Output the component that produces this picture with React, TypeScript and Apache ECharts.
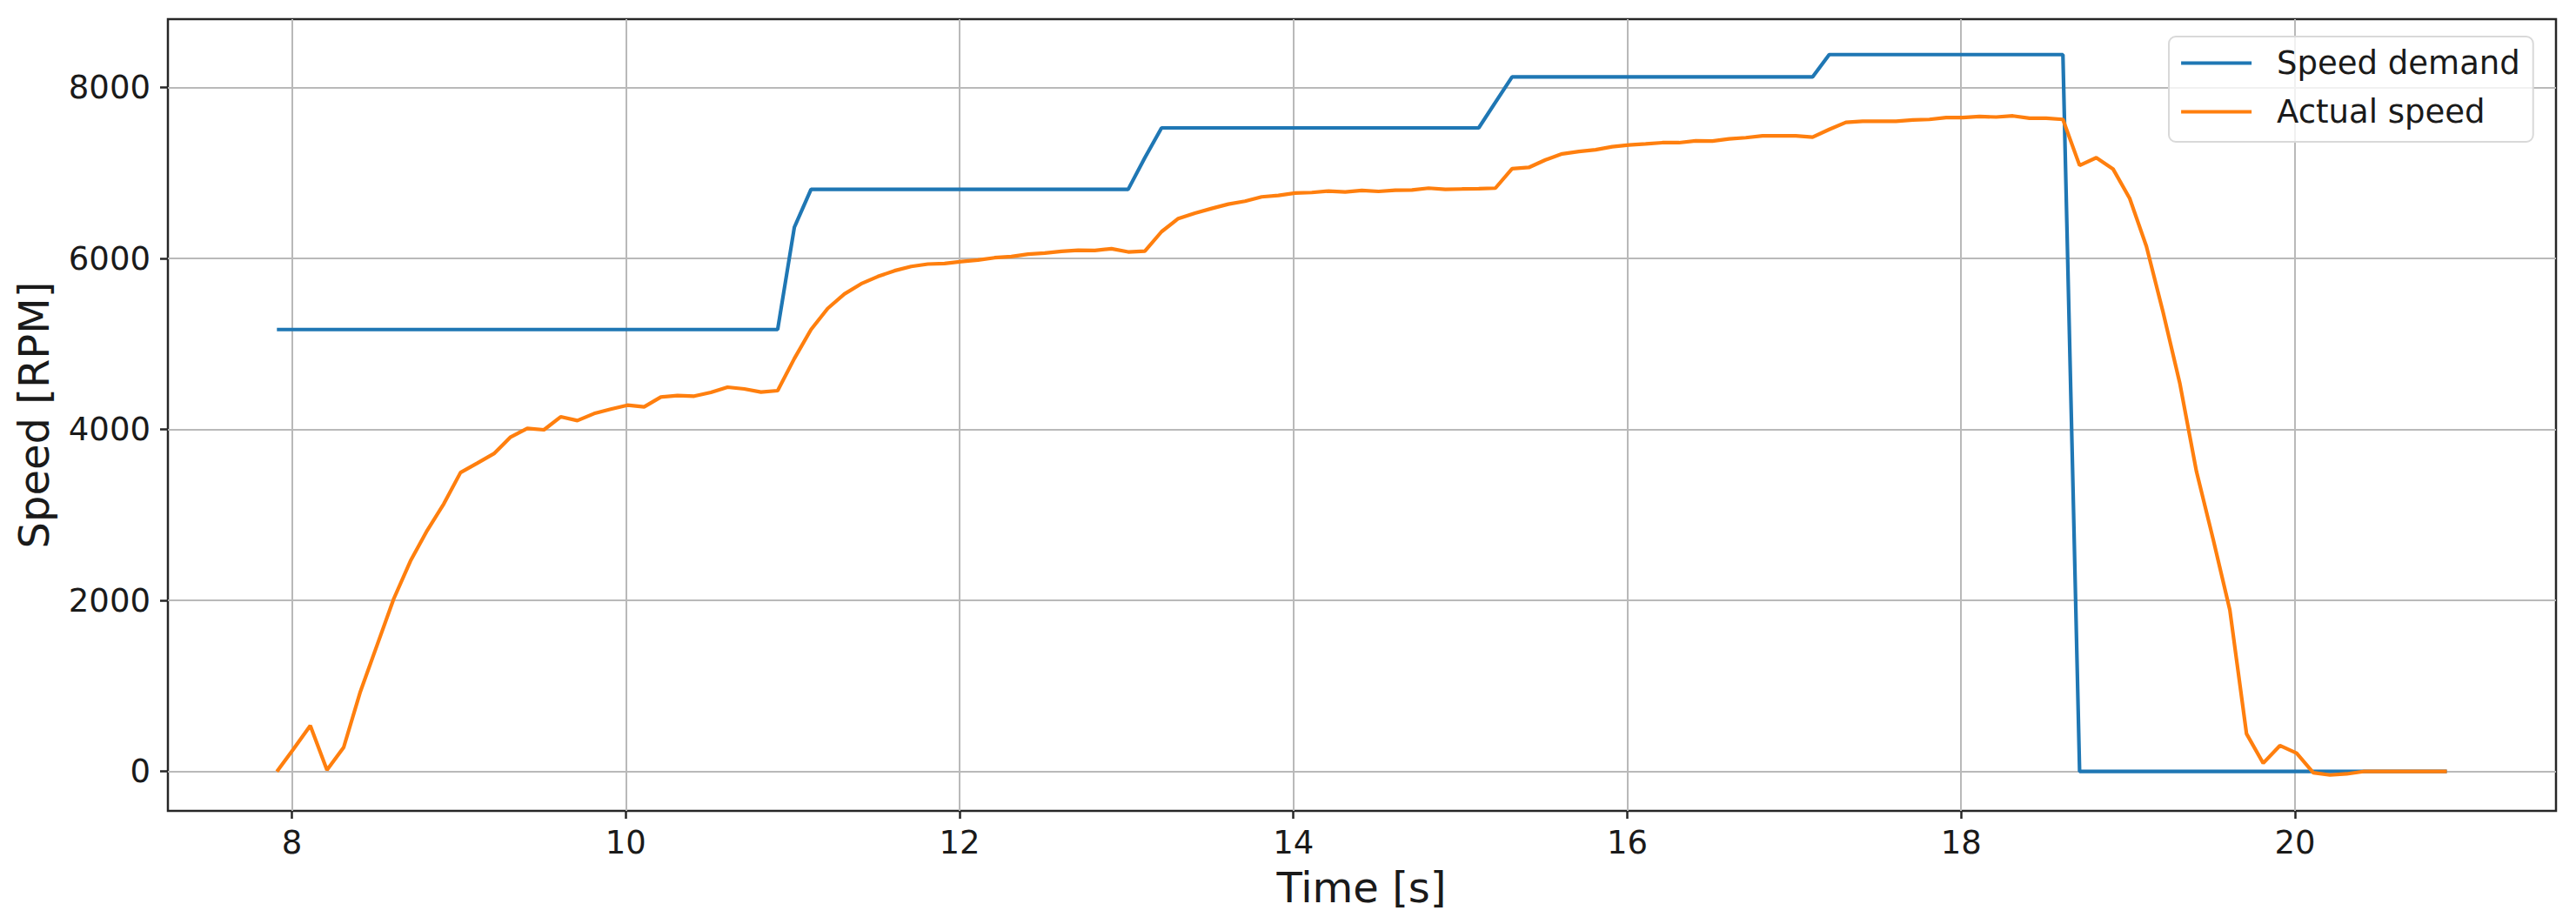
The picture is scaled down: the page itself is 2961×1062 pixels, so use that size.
import React, { useEffect, useRef } from "react";
import * as echarts from "echarts";

// ---- data ----
const START_TIME = 7.91; // s, first sample
const SAMPLE_STEP = 0.1; // s between samples

const speedDemand: number[] = [
  5170, 5170, 5170, 5170, 5170, 5170, 5170, 5170, 5170, 5170,
  5170, 5170, 5170, 5170, 5170, 5170, 5170, 5170, 5170, 5170,
  5170, 5170, 5170, 5170, 5170, 5170, 5170, 5170, 5170, 5170,
  5170, 6366, 6810, 6810, 6810, 6810, 6810, 6810, 6810, 6810,
  6810, 6810, 6810, 6810, 6810, 6810, 6810, 6810, 6810, 6810,
  6810, 6810, 7180, 7529, 7529, 7529, 7529, 7529, 7529, 7529,
  7529, 7529, 7529, 7529, 7529, 7529, 7529, 7529, 7529, 7529,
  7529, 7529, 7529, 7827, 8125, 8125, 8125, 8125, 8125, 8125,
  8125, 8125, 8125, 8125, 8125, 8125, 8125, 8125, 8125, 8125,
  8125, 8125, 8125, 8386, 8386, 8386, 8386, 8386, 8386, 8386,
  8386, 8386, 8386, 8386, 8386, 8386, 8386, 8386, 0, 0,
  0, 0, 0, 0, 0, 0, 0, 0, 0, 0,
  0, 0, 0, 0, 0, 0, 0, 0, 0, 0,
  0,
];

const actualSpeed: number[] = [
  0, 265, 536, 17, 282, 934, 1477, 2020, 2462, 2818,
  3131, 3497, 3606, 3718, 3912, 4014, 3997, 4149, 4105, 4187,
  4238, 4285, 4265, 4380, 4397, 4391, 4435, 4496, 4475, 4438,
  4455, 4830, 5170, 5417, 5586, 5705, 5790, 5858, 5908, 5936,
  5942, 5966, 5983, 6010, 6024, 6051, 6064, 6085, 6098, 6095,
  6115, 6078, 6088, 6315, 6468, 6532, 6586, 6637, 6671, 6722,
  6739, 6766, 6773, 6790, 6780, 6797, 6786, 6800, 6803, 6824,
  6810, 6814, 6817, 6824, 7052, 7066, 7155, 7225, 7252, 7273,
  7308, 7329, 7342, 7356, 7356, 7377, 7375, 7400, 7414, 7435,
  7435, 7435, 7421, 7511, 7594, 7607, 7607, 7607, 7621, 7628,
  7649, 7649, 7662, 7656, 7669, 7642, 7642, 7628, 7090, 7180,
  7049, 6704, 6145, 5373, 4545, 3510, 2717, 1890, 441, 97,
  303, 214, -14, -41, -28, 0, 0, 0, 0, 0,
  0,
];

const xTickValues: number[] = [8, 10, 12, 14, 16, 18, 20];
const yTickValues: number[] = [0, 2000, 4000, 6000, 8000];

const seriesNames = ["Speed demand", "Actual speed"];
const seriesColors = ["#1f77b4", "#ff7f0e"];
const xAxisTitle = "Time [s]";
const yAxisTitle = "Speed [RPM]";

const FONT = "'DejaVu Sans', Verdana, sans-serif";

function toPairs(values: number[]): [number, number][] {
  return values.map((v, i) => [
    Math.round((START_TIME + i * SAMPLE_STEP) * 100) / 100,
    v,
  ]);
}

export default function App() {
  const ref = useRef<HTMLDivElement>(null);

  useEffect(() => {
    if (!ref.current) return;
    const chart = echarts.init(ref.current, undefined, { renderer: "svg" });

    const axisColor = "#262626";
    const gridColor = "#b9b9b9";
    const lineWidth = 4.2;

    chart.setOption({
      animation: false,
      backgroundColor: "#ffffff",
      grid: {
        left: 193,
        right: 23,
        top: 22,
        bottom: 130,
        show: true,
        borderColor: axisColor,
        borderWidth: 2.5,
        backgroundColor: "transparent",
        containLabel: false,
      },
      legend: {
        show: true,
        data: seriesNames,
        orient: "vertical",
        left: 2493,
        top: 42,
        padding: [12, 15, 16, 12],
        itemWidth: 81,
        itemHeight: 37,
        itemGap: 19,
        backgroundColor: "rgba(255,255,255,0.8)",
        borderColor: "#d9d9d9",
        borderWidth: 2,
        borderRadius: 8,
        itemStyle: { opacity: 0 },
        lineStyle: { width: lineWidth },
        textStyle: {
          fontFamily: FONT,
          fontSize: 37,
          color: "#1a1a1a",
          padding: [0, 0, 0, 24],
        },
      },
      xAxis: {
        type: "value",
        min: 7.257,
        max: 21.564,
        axisLine: { show: false, onZero: false },
        axisTick: {
          show: true,
          inside: false,
          length: 9,
          customValues: xTickValues,
          lineStyle: { color: axisColor, width: 2.5 },
        },
        axisLabel: {
          show: true,
          customValues: xTickValues,
          margin: 18,
          fontFamily: FONT,
          fontSize: 37,
          color: "#1a1a1a",
          formatter: (v: number) => String(v),
        },
        splitLine: {
          show: true,
          lineStyle: { color: gridColor, width: 2 },
        },
      },
      yAxis: {
        type: "value",
        min: -461,
        max: 8801,
        axisLine: { show: false, onZero: false },
        axisTick: {
          show: true,
          inside: false,
          length: 9,
          customValues: yTickValues,
          lineStyle: { color: axisColor, width: 2.5 },
        },
        axisLabel: {
          show: true,
          customValues: yTickValues,
          margin: 20,
          fontFamily: FONT,
          fontSize: 37,
          color: "#1a1a1a",
          formatter: (v: number) => String(v),
        },
        splitLine: {
          show: true,
          lineStyle: { color: gridColor, width: 2 },
        },
      },
      graphic: [
        {
          type: "text",
          x: 1565,
          y: 1020,
          style: {
            text: xAxisTitle,
            fontFamily: FONT,
            fontSize: 48,
            fill: "#1a1a1a",
            textAlign: "center",
            textVerticalAlign: "middle",
          },
        },
        {
          type: "text",
          x: 39,
          y: 477,
          rotation: Math.PI / 2,
          style: {
            text: yAxisTitle,
            fontFamily: FONT,
            fontSize: 48,
            fill: "#1a1a1a",
            textAlign: "center",
            textVerticalAlign: "middle",
          },
        },
      ],
      series: [
        {
          name: seriesNames[0],
          type: "line",
          data: toPairs(speedDemand),
          symbol: "none",
          showSymbol: false,
          color: seriesColors[0],
          lineStyle: { color: seriesColors[0], width: lineWidth },
          z: 2,
        },
        {
          name: seriesNames[1],
          type: "line",
          data: toPairs(actualSpeed),
          symbol: "none",
          showSymbol: false,
          color: seriesColors[1],
          lineStyle: { color: seriesColors[1], width: lineWidth },
          z: 3,
        },
      ],
    });

    return () => {
      chart.dispose();
    };
  }, []);

  return (
    <div
      ref={ref}
      style={{
        position: "fixed",
        left: 0,
        top: 0,
        width: "2961px",
        height: "1062px",
      }}
    />
  );
}
